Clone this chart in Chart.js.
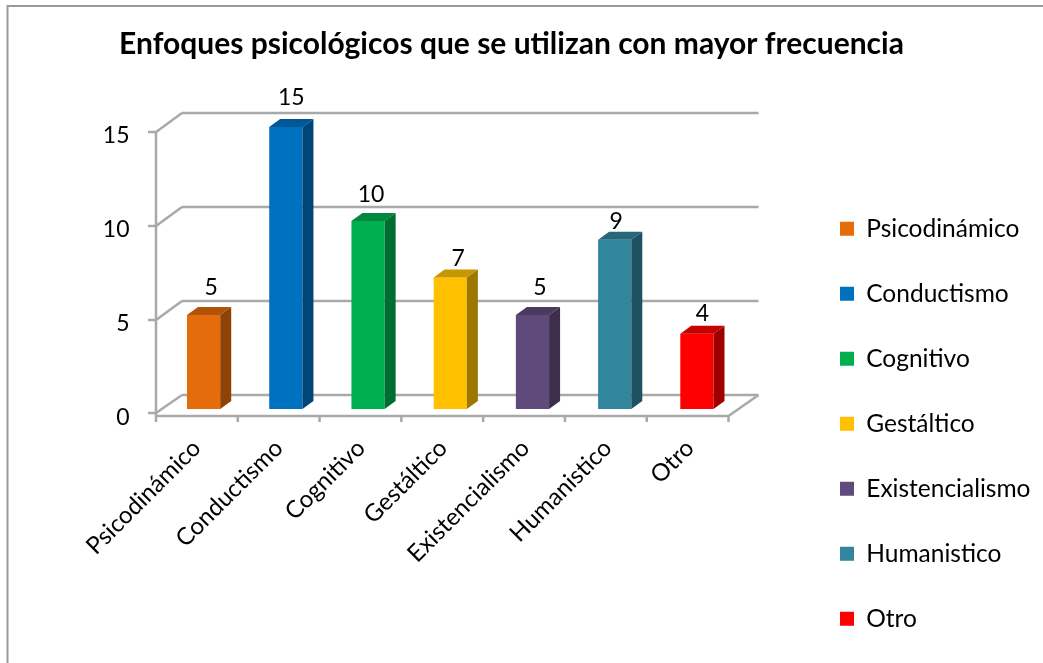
<!DOCTYPE html>
<html>
<head>
<meta charset="utf-8">
<script src="https://cdn.jsdelivr.net/npm/chart.js@4/dist/chart.umd.js"></script>
<style>
  html, body { margin: 0; background: #fff; }
  canvas { display: block; }
</style>
</head>
<body>
<canvas id="chart" width="1043" height="663"></canvas>
<script>
const categories = ['Psicodinámico', 'Conductismo', 'Cognitivo', 'Gestáltico', 'Existencialismo', 'Humanistico', 'Otro'];
const values = [5, 15, 10, 7, 5, 9, 4];
const colors = ['#E46C0A', '#0070C0', '#00B050', '#FFC000', '#604A7B', '#31859C', '#FF0000'];
const yTicks = [0, 5, 10, 15];
const titleText = 'Enfoques psicológicos que se utilizan con mayor frecuencia';

const GRID = '#A9A9A9';
const FONT = 'Lato, "Open Sans", sans-serif';
const DEPTH_X = 11, DEPTH_Y = 8;   // bar depth
const WALL_X = 19.5, WALL_Y = 14;  // bars to back wall
const FRONT_X = 6.5, FRONT_Y = 5;  // bars to front of the floor
// the value labels aren't placed evenly over the bars in the original
const labelNudgeX = [7.5, 5.5, 3, 8, 7.5, 1.5, 5.5];
const labelNudgeY = [27, 29, 26, 19, 27, 18, 20];

const shade = (hex, f) => {
  const n = parseInt(hex.slice(1), 16);
  return `rgb(${Math.round((n >> 16) * f)},${Math.round(((n >> 8) & 255) * f)},${Math.round((n & 255) * f)})`;
};

const line = (ctx, x1, y1, x2, y2) => {
  ctx.beginPath();
  ctx.moveTo(x1, y1);
  ctx.lineTo(x2, y2);
  ctx.stroke();
};

const frame3d = {
  id: 'frame3d',
  afterLayout(chart) {
    // title and legend don't sit where the layout puts them in the original
    const t = chart.titleBlock;
    t.left += 22; t.right += 22;
    const l = chart.legend;
    l.left = 799.5; l.right = 1043;
    l.top = 176; l.bottom = 740; // bottom past the canvas or the last item wraps
    l.adjustHitBoxes();
  },
  beforeDraw(chart) {
    const ctx = chart.ctx;
    ctx.save();
    ctx.strokeStyle = '#999999';
    ctx.lineWidth = 2;
    ctx.beginPath();
    ctx.moveTo(7.5, 663);
    ctx.lineTo(7.5, 6);
    ctx.lineTo(1043, 6);
    ctx.stroke();
    ctx.restore();
  },
  beforeDatasetsDraw(chart) {
    const { ctx, chartArea: a, scales: { y } } = chart;
    const frontL = a.left - FRONT_X, frontR = a.right - FRONT_X - 3;
    const backL = a.left + WALL_X, backR = a.right + WALL_X + 1;
    ctx.save();
    ctx.strokeStyle = GRID;
    ctx.lineWidth = 2.5;
    yTicks.forEach(v => {
      const py = y.getPixelForValue(v);
      const fy = py + FRONT_Y - (v ? 0 : 1);
      line(ctx, backL, py - WALL_Y, backR, py - WALL_Y);
      line(ctx, frontL, fy, backL, py - WALL_Y);
      line(ctx, frontL - 8, fy, frontL, fy);
    });
    // floor and front axis
    const base = y.getPixelForValue(0);
    const floorY = base + 7;
    line(ctx, frontL, floorY, frontR, floorY);
    line(ctx, frontR, floorY, backR, base - WALL_Y);
    line(ctx, frontL, y.getPixelForValue(15) + FRONT_Y, frontL, floorY);
    for (let i = 0; i <= categories.length; i++) {
      const tx = frontL + (frontR - frontL) * i / categories.length;
      line(ctx, tx, floorY, tx, floorY + 6);
    }
    ctx.restore();
  },
  afterDatasetsDraw(chart) {
    const ctx = chart.ctx;
    ctx.save();
    chart.getDatasetMeta(0).data.forEach((bar, i) => {
      const { x, y, base, width } = bar.getProps(['x', 'y', 'base', 'width'], true);
      const r = x + width / 2, l = x - width / 2;
      ctx.fillStyle = shade(colors[i], 0.78);
      ctx.beginPath();
      ctx.moveTo(l, y);
      ctx.lineTo(l + DEPTH_X, y - DEPTH_Y);
      ctx.lineTo(r + DEPTH_X, y - DEPTH_Y);
      ctx.lineTo(r, y);
      ctx.fill();
      ctx.fillStyle = shade(colors[i], 0.62);
      ctx.beginPath();
      ctx.moveTo(r, y);
      ctx.lineTo(r + DEPTH_X, y - DEPTH_Y);
      ctx.lineTo(r + DEPTH_X, base - DEPTH_Y);
      ctx.lineTo(r, base);
      ctx.fill();
      ctx.fillStyle = '#000';
      ctx.font = '23px ' + FONT;
      ctx.textAlign = 'center';
      ctx.textBaseline = 'middle';
      ctx.fillText(String(values[i]), x + labelNudgeX[i], y - labelNudgeY[i]);
    });
    ctx.restore();
  }
};

new Chart(document.getElementById('chart'), {
  type: 'bar',
  data: {
    labels: categories,
    datasets: [{
      data: values,
      backgroundColor: colors,
      categoryPercentage: 1,
      barPercentage: 0.404
    }]
  },
  plugins: [frame3d],
  options: {
    responsive: false,
    animation: false,
    layout: { padding: { right: 64 } },
    scales: {
      x: {
        grid: { display: false },
        border: { display: false },
        afterFit: s => { s.height = 254; },
        ticks: {
          autoSkip: false,
          minRotation: 45,
          maxRotation: 45,
          padding: 17,
          labelOffset: -7,
          color: '#000',
          font: { family: FONT, size: 24 }
        }
      },
      y: {
        min: 0,
        max: 15,
        grid: { display: false },
        border: { display: false },
        afterFit: s => { s.width = 162.5; },
        afterBuildTicks: s => { s.ticks = yTicks.map(v => ({ value: v })); },
        ticks: {
          padding: 25,
          labelOffset: 9,
          color: '#000',
          font: { family: FONT, size: 23 }
        }
      }
    },
    plugins: {
      title: {
        display: true,
        text: titleText,
        color: '#000',
        font: { family: FONT, size: 30, weight: 'bold' },
        padding: { top: 26, bottom: 65 }
      },
      legend: {
        position: 'right',
        align: 'start',
        labels: {
          boxWidth: 14,
          boxHeight: 14,
          padding: 40.5,
          color: '#000',
          font: { family: FONT, size: 24.5, lineHeight: 1 },
          generateLabels: () => categories.map((c, i) => ({
            text: c, fillStyle: colors[i], strokeStyle: colors[i], lineWidth: 0, index: i
          }))
        }
      },
      tooltip: { enabled: false }
    }
  }
});
</script>
</body>
</html>
